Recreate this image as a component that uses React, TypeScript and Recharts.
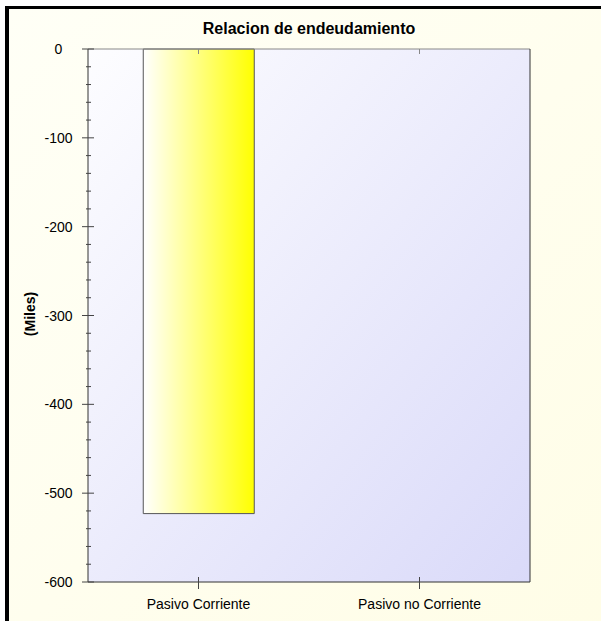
import { BarChart, Bar, XAxis, YAxis, CartesianGrid } from "recharts";

const categories = ["Pasivo Corriente", "Pasivo no Corriente"];
const pasivoValues: (number | null)[] = [-523, null];
const yTicks = [0, -20, -40, -60, -80, -100, -120, -140, -160, -180, -200, -220, -240, -260, -280, -300, -320, -340, -360, -380, -400, -420, -440, -460, -480, -500, -520, -540, -560, -580, -600];

const chartData = categories.map((name, i) => ({ name, value: pasivoValues[i] }));

const FONT = "'Liberation Sans', Arial, sans-serif";

interface TickProps {
  x?: number;
  y?: number;
  payload?: { value: number | string };
}

function LeftTick({ x = 0, y = 0, payload }: TickProps) {
  const v = Number(payload?.value ?? 0);
  const major = v % 100 === 0;
  return (
    <g>
      <line
        x1={major ? x - 6 : x - 2}
        x2={major ? x + 6 : x + 3}
        y1={y}
        y2={y}
        stroke="#444"
      />
      {major && (
        <text
          x={x - 29.5}
          y={y}
          textAnchor="middle"
          dominantBaseline="central"
          fontSize={14}
          fontFamily={FONT}
          fill="#000"
        >
          {v}
        </text>
      )}
    </g>
  );
}

function RightTick({ x = 0, y = 0, payload }: TickProps) {
  const v = Number(payload?.value ?? 0);
  const major = v % 100 === 0;
  return <line x1={x} x2={x - (major ? 5 : 4)} y1={y} y2={y} stroke={major ? "#888" : "#444"} />;
}

function BottomTick({ x = 0, y = 0, payload }: TickProps) {
  return (
    <g>
      <line x1={x} x2={x} y1={y - 5} y2={y + 7} stroke="#444" />
      <text
        x={x}
        y={y + 22}
        textAnchor="middle"
        dominantBaseline="central"
        fontSize={14}
        fontFamily={FONT}
        fill="#000"
      >
        {payload?.value}
      </text>
    </g>
  );
}

function TopTick({ x = 0, y = 0 }: TickProps) {
  return <line x1={x} x2={x} y1={y} y2={y + 5} stroke="#888" />;
}

export default function App() {
  return (
    <div style={{ position: "absolute", left: 0, top: 0, width: 601, height: 621, background: "#fff", overflow: "hidden" }}>
      <div
        style={{
          position: "absolute",
          left: 5,
          top: 6,
          width: 620,
          height: 640,
          borderLeft: "4px solid #000",
          borderTop: "3px solid #000",
          background: "linear-gradient(135deg, #fffff6 0%, #fffde6 100%)",
        }}
      />
      <div
        style={{
          position: "absolute",
          left: 88,
          width: 442,
          top: 19,
          textAlign: "center",
          fontFamily: FONT,
          fontWeight: "bold",
          fontSize: 16,
          lineHeight: "20px",
          color: "#000",
        }}
      >
        Relacion de endeudamiento
      </div>
      <div
        style={{
          position: "absolute",
          left: 30,
          top: 314,
          transform: "translate(-50%, -50%) rotate(-90deg)",
          fontFamily: FONT,
          fontWeight: "bold",
          fontSize: 14,
          whiteSpace: "nowrap",
          color: "#000",
        }}
      >
        (Miles)
      </div>
      <div style={{ position: "absolute", left: 0, top: 0 }}>
        <BarChart
          width={601}
          height={621}
          data={chartData}
          margin={{ top: 39, right: 61, bottom: 29, left: 28 }}
          barCategoryGap="25%"
        >
          <defs>
            <linearGradient id="plotGrad" x1="0" y1="0" x2="1" y2="1">
              <stop offset="0%" stopColor="#fdfdff" />
              <stop offset="100%" stopColor="#dadaf9" />
            </linearGradient>
            <linearGradient id="barGrad" x1="0" y1="0" x2="1" y2="0">
              <stop offset="0%" stopColor="#ffffff" />
              <stop offset="100%" stopColor="#ffff00" />
            </linearGradient>
          </defs>
          <CartesianGrid fill="url(#plotGrad)" horizontal={false} vertical={false} />
          <XAxis
            dataKey="name"
            xAxisId={0}
            height={10}
            tickSize={0}
            tickMargin={0}
            tickLine={false}
            axisLine={{ stroke: "#333" }}
            tick={<BottomTick />}
            interval={0}
          />
          <XAxis
            dataKey="name"
            xAxisId="top"
            orientation="top"
            height={10}
            tickSize={0}
            tickMargin={0}
            tickLine={false}
            axisLine={{ stroke: "#888" }}
            tick={<TopTick />}
            interval={0}
          />
          <YAxis
            yAxisId={0}
            domain={[-600, 0]}
            ticks={yTicks}
            interval={0}
            width={60}
            tickSize={0}
            tickMargin={0}
            tickLine={false}
            axisLine={{ stroke: "#333" }}
            tick={<LeftTick />}
          />
          <YAxis
            yAxisId="right"
            orientation="right"
            domain={[-600, 0]}
            ticks={yTicks}
            interval={0}
            width={10}
            tickSize={0}
            tickMargin={0}
            tickLine={false}
            axisLine={{ stroke: "#333" }}
            tick={<RightTick />}
          />
          <Bar
            dataKey="value"
            xAxisId={0}
            yAxisId={0}
            fill="url(#barGrad)"
            stroke="#555"
            strokeWidth={1}
            isAnimationActive={false}
          />
        </BarChart>
      </div>
    </div>
  );
}
